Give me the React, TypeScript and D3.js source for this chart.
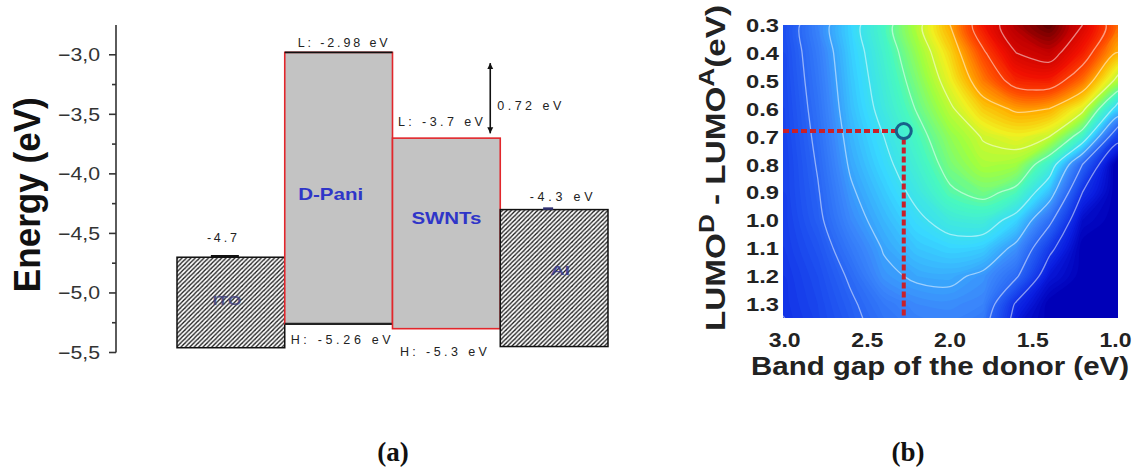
import React from "react";
import * as d3 from "d3";

// ---------- panel (a): energy level diagram ----------
const layers = ["ITO", "D-Pani", "SWNTs", "Al"];
const layerTop = [-4.7, -2.98, -3.7, -4.3];
const layerBottom = [-5.46, -5.26, -5.3, -5.45];
const topLabels = ["-4.7", "L: -2.98 eV", "L: -3.7 eV", "-4.3 eV"];
const bottomLabels = ["", "H: -5.26 eV", "H: -5.3 eV", ""];
const energyTicks = [-3.0, -3.5, -4.0, -4.5, -5.0, -5.5];
const gapArrow = [-3.07, -3.66];
const gapLabel = "0.72 eV";

// ---------- panel (b): efficiency map ----------
const bandGaps = [3.0, 2.8, 2.6, 2.4, 2.2, 2.0, 1.8, 1.6, 1.4, 1.2, 1.0];
const lumoOffsets = [0.3, 0.4, 0.5, 0.6, 0.7, 0.8, 0.9, 1.0, 1.1, 1.2, 1.3, 1.4];
// one row per LUMO offset, one column per band gap
const efficiency = [
  [1.5, 2.6, 3.7, 4.7, 5.8, 7.0, 8.5, 9.5, 10.0, 9.0, 7.6],
  [1.5, 2.45, 3.6, 4.55, 5.55, 6.6, 7.9, 9.0, 9.3, 8.4, 7.0],
  [1.45, 2.35, 3.5, 4.4, 5.3, 6.3, 7.4, 8.3, 8.4, 7.5, 5.9],
  [1.4, 2.25, 3.4, 4.25, 5.05, 5.9, 6.7, 7.1, 7.0, 6.2, 3.8],
  [1.35, 2.15, 3.25, 4.0, 4.75, 5.5, 6.05, 6.3, 6.0, 4.6, 1.4],
  [1.3, 2.05, 3.1, 3.8, 4.5, 5.25, 5.75, 5.65, 4.5, 2.0, 0],
  [1.3, 1.95, 2.9, 3.55, 4.2, 4.9, 5.2, 4.8, 3.4, 1.0, 0],
  [1.25, 1.85, 2.7, 3.3, 3.85, 4.3, 4.4, 3.7, 2.2, 0.3, 0],
  [1.2, 1.65, 2.4, 3.05, 3.5, 3.7, 3.6, 2.8, 1.2, 0, 0],
  [1.1, 1.5, 2.1, 2.85, 3.1, 3.15, 2.85, 2.1, 0.5, 0, 0],
  [1.05, 1.4, 1.9, 2.4, 2.7, 2.75, 2.6, 0.9, 0, 0, 0],
  [0.95, 1.3, 1.75, 2.2, 2.45, 2.5, 2.2, 0.4, 0, 0, 0],
];
const gapTicks = [3.0, 2.5, 2.0, 1.5, 1.0];
const offsetTicks = [0.3, 0.4, 0.5, 0.6, 0.7, 0.8, 0.9, 1.0, 1.1, 1.2, 1.3];
const chosenPoint = [2.28, 0.68];
const lineLevels = [1, 2, 3, 4, 5, 6, 7, 8, 9];

const colorStops = [0, 0.6, 1.5, 2.6, 3.7, 4.7, 5.6, 6.3, 6.9, 7.7, 8.5, 9.3, 10];
const colorRamp = ["#0000b8", "#0a1ee0", "#1d4ff0", "#3a86fb", "#38d8ff", "#48f8c0", "#a0ff40",
  "#f0f020", "#ffb000", "#ff5000", "#f01000", "#c00000", "#580000"];

const sans = "'Liberation Sans', Arial, sans-serif";

// per-layer drawing style
const layerStyle: Record<string, any> = {
  "ITO": { hatch: true, labelFrac: 0.48, labelDx: -4, topDx: -9, topDy: -15, topLen: 30, mark: 28, name: "ITO", nameLen: 29, nameSize: 12, nameColor: "#3b3b7a" },
  "D-Pani": { hatch: false, labelFrac: 0.52, labelDx: -8, topDx: 4, topDy: -5, botDx: 2, botDy: 20, topLen: 90, botLen: 100, name: "D-Pani", nameLen: 65, nameSize: 17, nameColor: "#2f35c8", blackEdge: true },
  "SWNTs": { hatch: false, labelFrac: 0.42, labelDx: 0, topDx: -6, topDy: -12, botDx: -3, botDy: 27, topLen: 85, botLen: 87, name: "SWNTs", nameLen: 70, nameSize: 16, nameColor: "#2f35c8" },
  "Al": { hatch: true, labelFrac: 0.44, labelDx: 6, topDx: 7, topDy: -9, topLen: 63, mark: 10, name: "Al", nameLen: 20, nameSize: 13, nameColor: "#30308a" },
};

const EnergyPanel = () => {
  const y = d3.scaleLinear().domain([-2.75, -5.5]).range([25, 352.5]);
  const x = d3.scaleBand().domain(layers).range([177, 608]).paddingInner(0);
  const bw = x.bandwidth();
  const axisX = 116;
  const minor = energyTicks.slice(0, -1).map((t) => t - 0.25);
  const fmt = (t: number) => d3.format(".1f")(t).replace(".", ",");
  const swntsRight = (x("SWNTs") as number) + bw;

  return (
    <g>
      <defs>
        <pattern id="hatch" patternUnits="userSpaceOnUse" width={4.4} height={4.4}>
          <rect width={4.4} height={4.4} fill="#fff" />
          <path d="M-1,1.1 l2.2,-2.2 M0,4.4 l4.4,-4.4 M3.3,5.5 l2.2,-2.2" stroke="#1a1a1a" strokeWidth={1.3} />
        </pattern>
        <marker id="arrowHead" viewBox="0 0 8 8" refX={8} refY={4} markerWidth={6} markerHeight={7}
          markerUnits="userSpaceOnUse" orient="auto-start-reverse">
          <path d="M0,0 L8,4 L0,8 z" fill="#111" />
        </marker>
      </defs>

      {/* y axis */}
      <line x1={axisX} x2={axisX} y1={y(-2.75)} y2={y(-5.5)} stroke="#333" strokeWidth={1.6} />
      {energyTicks.map((t) => (
        <g key={t}>
          <line x1={axisX - 7} x2={axisX} y1={y(t)} y2={y(t)} stroke="#333" strokeWidth={1.6} />
          <text x={100} y={y(t) + 6.5} textAnchor="end" fontFamily={sans} fontSize={18} fill="#333"
            textLength={42} lengthAdjust="spacingAndGlyphs">{fmt(t)}</text>
        </g>
      ))}
      {minor.map((t) => (
        <line key={t} x1={axisX - 4} x2={axisX} y1={y(t)} y2={y(t)} stroke="#333" strokeWidth={1.6} />
      ))}
      <text transform={`translate(40, ${(y(-3.25) + y(-5.1)) / 2}) rotate(-90)`} textAnchor="middle"
        fontFamily={sans} fontWeight="bold" fontSize={37} fill="#111" textLength={195}
        lengthAdjust="spacingAndGlyphs">Energy (eV)</text>

      {/* layers */}
      {layers.map((name, i) => {
        const s = layerStyle[name];
        const x0 = x(name) as number;
        const y0 = y(layerTop[i]);
        const y1 = y(layerBottom[i]);
        const cx = x0 + bw / 2;
        return (
          <g key={name}>
            {s.hatch ? (
              <rect x={x0} y={y0} width={bw} height={y1 - y0} fill="url(#hatch)" stroke="#111" strokeWidth={1.5} />
            ) : (
              <rect x={x0} y={y0} width={bw} height={y1 - y0} fill="#c3c3c3" stroke="#e2262b" strokeWidth={1.6} />
            )}
            {s.blackEdge && (
              <g>
                <line x1={x0} x2={x0 + bw} y1={y0} y2={y0} stroke="#111" strokeWidth={1.8} />
                <line x1={x0} x2={x0 + bw} y1={y1} y2={y1} stroke="#222" strokeWidth={2.2} />
              </g>
            )}
            {s.mark && (
              <line x1={cx - 6 - s.mark / 2} x2={cx - 6 + s.mark / 2} y1={y0 - 1} y2={y0 - 1}
                stroke={name === "Al" ? "#303070" : "#111"} strokeWidth={2.5} />
            )}
            <text x={cx + s.topDx} y={y0 + s.topDy} textAnchor="middle" fontFamily={sans} fontSize={12.5}
              fill="#222" textLength={s.topLen} lengthAdjust="spacing">{topLabels[i]}</text>
            {bottomLabels[i] && (
              <text x={cx + s.botDx} y={y1 + s.botDy} textAnchor="middle" fontFamily={sans}
                fontSize={12.5} fill="#222" textLength={s.botLen} lengthAdjust="spacing">{bottomLabels[i]}</text>
            )}
            <text x={cx + s.labelDx} y={y0 + (y1 - y0) * s.labelFrac + s.nameSize * 0.36} textAnchor="middle"
              fontFamily={sans} fontWeight="bold" fontSize={s.nameSize} fill={s.nameColor}
              opacity={s.hatch ? 0.8 : 1} textLength={s.nameLen} lengthAdjust="spacingAndGlyphs">{s.name}</text>
          </g>
        );
      })}

      {/* offset arrow */}
      <line x1={swntsRight - 10} x2={swntsRight - 10} y1={y(gapArrow[0])} y2={y(gapArrow[1])} stroke="#111"
        strokeWidth={1.6} markerStart="url(#arrowHead)" markerEnd="url(#arrowHead)" />
      <text x={swntsRight - 3} y={(y(gapArrow[0]) + y(gapArrow[1])) / 2 + 12} fontFamily={sans} fontSize={12.5}
        fill="#222" textLength={64} lengthAdjust="spacing">{gapLabel}</text>
    </g>
  );
};

const MapPanel = () => {
  const x = d3.scaleLinear().domain([3.01, 0.985]).range([783, 1118]);
  const y = d3.scaleLinear().domain([0.3, 1.35]).range([25, 318]);
  const n = bandGaps.length;
  const m = lumoOffsets.length;
  const values = efficiency.flat();
  const gx = d3.scaleLinear().domain([0.5, n - 0.5]).range([bandGaps[0], bandGaps[n - 1]]);
  const gy = d3.scaleLinear().domain([0.5, m - 0.5]).range([lumoOffsets[0], lumoOffsets[m - 1]]);
  const color = d3.scaleLinear<string>().domain(colorStops).range(colorRamp).interpolate(d3.interpolateRgb);

  const ring = d3.line<number[]>()
    .x((p) => x(gx(p[0])))
    .y((p) => y(gy(p[1])))
    .curve(d3.curveCatmullRomClosed.alpha(0.5));
  const toPath = (c: d3.ContourMultiPolygon) =>
    c.coordinates.map((poly) => poly.map((r) => ring(r.slice(0, -1))).join("")).join("");

  const fillLevels = d3.range(0, 10.01, 0.1);
  const fills = d3.contours().size([n, m]).thresholds(fillLevels)(values);
  const lines = d3.contours().size([n, m]).thresholds(lineLevels)(values);

  const [x0, x1] = x.range();
  const [y0, y1] = y.range();
  const px = x(chosenPoint[0]);
  const py = y(chosenPoint[1]);
  const r = 7.5;

  return (
    <g>
      <defs>
        <clipPath id="mapClip">
          <rect x={x0} y={y0} width={x1 - x0} height={y1 - y0} />
        </clipPath>
      </defs>
      <g clipPath="url(#mapClip)">
        <rect x={x0} y={y0} width={x1 - x0} height={y1 - y0} fill={color(0)} />
        {fills.map((c, i) => (
          <path key={i} d={toPath(c)} fill={color(c.value)} fillRule="evenodd" />
        ))}
        {lines.map((c, i) => (
          <path key={i} d={toPath(c)} fill="none" stroke="#ffffff" strokeOpacity={0.5} strokeWidth={1.3} />
        ))}
        <line x1={x0} x2={px - r} y1={py} y2={py} stroke="#c8202a" strokeWidth={4} strokeDasharray="6 3" />
        <line x1={px} x2={px} y1={py + r} y2={y1} stroke="#c8202a" strokeWidth={4} strokeDasharray="6 3" />
        <circle cx={px} cy={py} r={r} fill="none" stroke="#17608a" strokeWidth={3} />
      </g>

      {offsetTicks.map((t) => (
        <text key={t} x={779} y={y(t) + 7} textAnchor="end" fontFamily={sans} fontWeight="bold" fontSize={19}
          fill="#222" textLength={33} lengthAdjust="spacingAndGlyphs">{d3.format(".1f")(t)}</text>
      ))}
      {gapTicks.map((t) => (
        <text key={t} x={x(t)} y={347} textAnchor="middle" fontFamily={sans} fontWeight="bold" fontSize={20}
          fill="#222" textLength={32} lengthAdjust="spacingAndGlyphs">{d3.format(".1f")(t)}</text>
      ))}
      <text x={940} y={375} textAnchor="middle" fontFamily={sans} fontWeight="bold" fontSize={25} fill="#222"
        textLength={378} lengthAdjust="spacingAndGlyphs">Band gap of the donor (eV)</text>

      {/* rotated y title */}
      <text transform="translate(725, 168) rotate(-90)" textAnchor="middle" fontFamily={sans} fontWeight="bold"
        fontSize={28} fill="#222" textLength={326} lengthAdjust="spacingAndGlyphs">
        LUMO<tspan fontSize={22} dy={-11}>D</tspan><tspan dy={11}> - LUMO</tspan>
        <tspan fontSize={22} dy={-11}>A</tspan><tspan dy={11}>(eV)</tspan>
      </text>
    </g>
  );
};

export default function App() {
  return (
    <svg width={1133} height={472} style={{ position: "absolute", left: 0, top: 0, background: "#fff" }}>
      <rect width={1133} height={472} fill="#fff" />
      <EnergyPanel />
      <MapPanel />
      <text x={393} y={461} textAnchor="middle" fontFamily="'Liberation Serif', 'Times New Roman', serif"
        fontWeight="bold" fontSize={27} fill="#111">(a)</text>
      <text x={908} y={461} textAnchor="middle" fontFamily="'Liberation Serif', 'Times New Roman', serif"
        fontWeight="bold" fontSize={27} fill="#111">(b)</text>
    </svg>
  );
}
